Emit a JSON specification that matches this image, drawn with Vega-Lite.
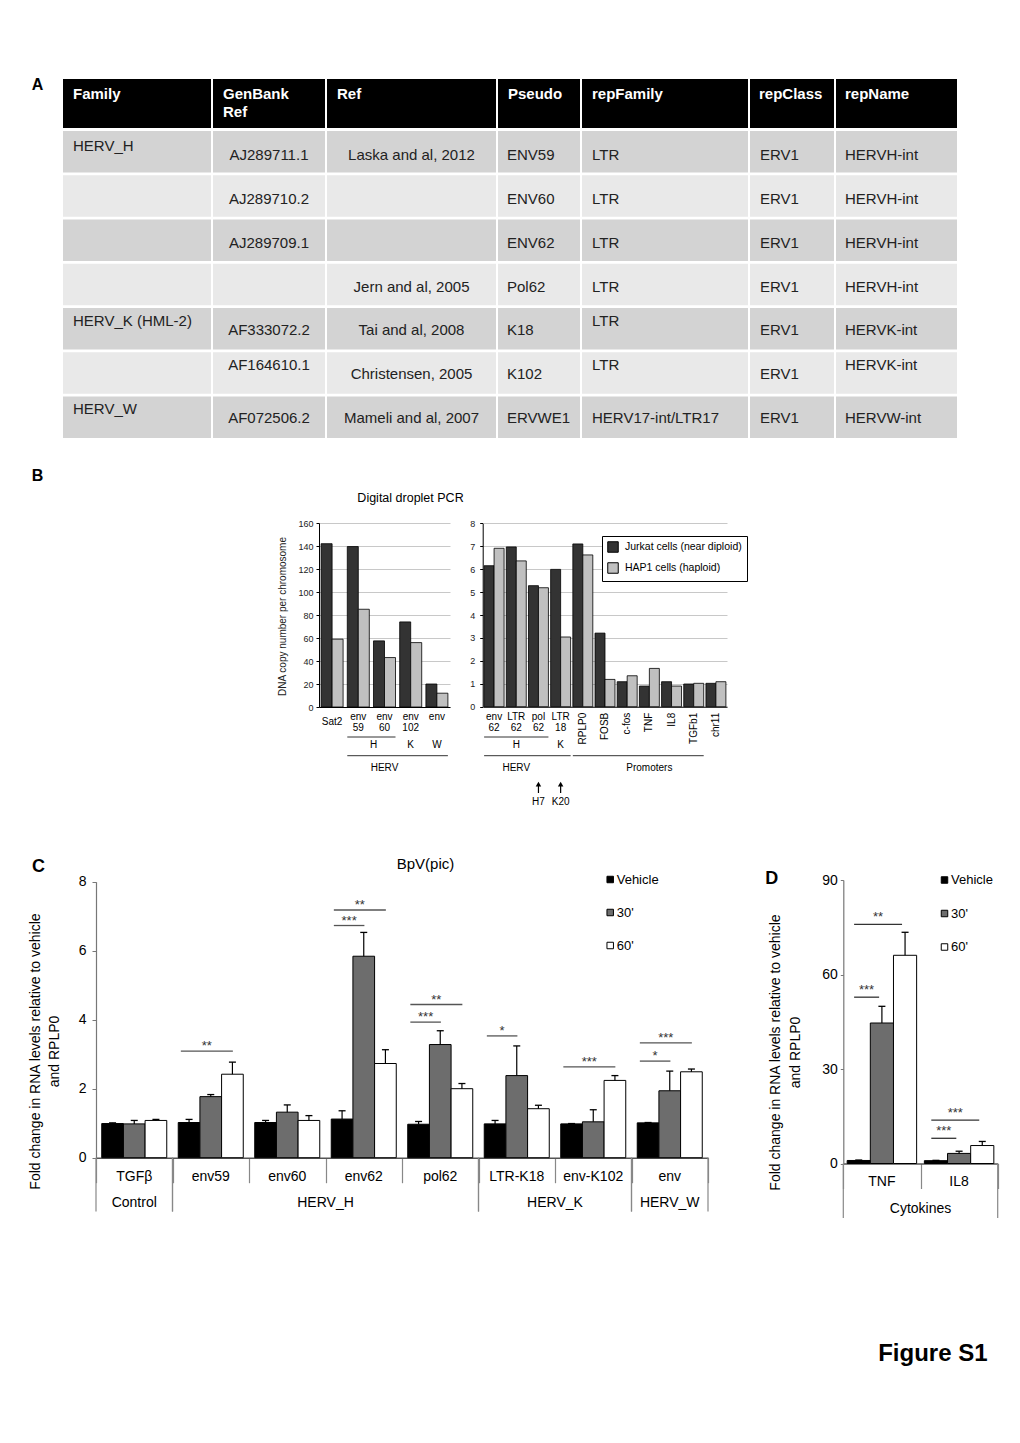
{
"$schema":"https://vega.github.io/schema/vega-lite/v6.json",
"width":1020,"height":1443,"autosize":"none","padding":0,"background":"#ffffff",
"config":{"view":{"stroke":null},"font":"Liberation Sans"},
"datasets":{
"tbl":[
{"r":0,"c":"Family","t":"Family","v":"h"},{"r":0,"c":"GenBank","t":"GenBank\nRef","v":"h"},{"r":0,"c":"Ref","t":"Ref","v":"h"},{"r":0,"c":"Pseudo","t":"Pseudo","v":"h"},{"r":0,"c":"repFamily","t":"repFamily","v":"h"},{"r":0,"c":"repClass","t":"repClass","v":"h"},{"r":0,"c":"repName","t":"repName","v":"h"},
{"r":1,"c":"Family","t":"HERV_H","v":"t"},{"r":1,"c":"GenBank","t":"AJ289711.1","v":"m"},{"r":1,"c":"Ref","t":"Laska and al, 2012","v":"m"},{"r":1,"c":"Pseudo","t":"ENV59","v":"m"},{"r":1,"c":"repFamily","t":"LTR","v":"m"},{"r":1,"c":"repClass","t":"ERV1","v":"m"},{"r":1,"c":"repName","t":"HERVH-int","v":"m"},
{"r":2,"c":"Family","t":"","v":"m"},{"r":2,"c":"GenBank","t":"AJ289710.2","v":"m"},{"r":2,"c":"Ref","t":"","v":"m"},{"r":2,"c":"Pseudo","t":"ENV60","v":"m"},{"r":2,"c":"repFamily","t":"LTR","v":"m"},{"r":2,"c":"repClass","t":"ERV1","v":"m"},{"r":2,"c":"repName","t":"HERVH-int","v":"m"},
{"r":3,"c":"Family","t":"","v":"m"},{"r":3,"c":"GenBank","t":"AJ289709.1","v":"m"},{"r":3,"c":"Ref","t":"","v":"m"},{"r":3,"c":"Pseudo","t":"ENV62","v":"m"},{"r":3,"c":"repFamily","t":"LTR","v":"m"},{"r":3,"c":"repClass","t":"ERV1","v":"m"},{"r":3,"c":"repName","t":"HERVH-int","v":"m"},
{"r":4,"c":"Family","t":"","v":"m"},{"r":4,"c":"GenBank","t":"","v":"m"},{"r":4,"c":"Ref","t":"Jern and al, 2005","v":"m"},{"r":4,"c":"Pseudo","t":"Pol62","v":"m"},{"r":4,"c":"repFamily","t":"LTR","v":"m"},{"r":4,"c":"repClass","t":"ERV1","v":"m"},{"r":4,"c":"repName","t":"HERVH-int","v":"m"},
{"r":5,"c":"Family","t":"HERV_K (HML-2)","v":"t"},{"r":5,"c":"GenBank","t":"AF333072.2","v":"m"},{"r":5,"c":"Ref","t":"Tai and al, 2008","v":"m"},{"r":5,"c":"Pseudo","t":"K18","v":"m"},{"r":5,"c":"repFamily","t":"LTR","v":"t"},{"r":5,"c":"repClass","t":"ERV1","v":"m"},{"r":5,"c":"repName","t":"HERVK-int","v":"m"},
{"r":6,"c":"Family","t":"","v":"m"},{"r":6,"c":"GenBank","t":"AF164610.1","v":"t"},{"r":6,"c":"Ref","t":"Christensen, 2005","v":"m"},{"r":6,"c":"Pseudo","t":"K102","v":"m"},{"r":6,"c":"repFamily","t":"LTR","v":"t"},{"r":6,"c":"repClass","t":"ERV1","v":"m"},{"r":6,"c":"repName","t":"HERVK-int","v":"t"},
{"r":7,"c":"Family","t":"HERV_W","v":"t"},{"r":7,"c":"GenBank","t":"AF072506.2","v":"m"},{"r":7,"c":"Ref","t":"Mameli and al, 2007","v":"m"},{"r":7,"c":"Pseudo","t":"ERVWE1","v":"m"},{"r":7,"c":"repFamily","t":"HERV17-int/LTR17","v":"m"},{"r":7,"c":"repClass","t":"ERV1","v":"m"},{"r":7,"c":"repName","t":"HERVW-int","v":"m"}
],
"dd":[
{"p":"L","cat":"Sat2","g":"Sat2","cell":"Jurkat cells (near diploid)","v":142},{"p":"L","cat":"Sat2","g":"Sat2","cell":"HAP1 cells (haploid)","v":59},
{"p":"L","cat":"env 59","g":"HERV","cell":"Jurkat cells (near diploid)","v":139.5},{"p":"L","cat":"env 59","g":"HERV","cell":"HAP1 cells (haploid)","v":85},
{"p":"L","cat":"env 60","g":"HERV","cell":"Jurkat cells (near diploid)","v":57.5},{"p":"L","cat":"env 60","g":"HERV","cell":"HAP1 cells (haploid)","v":43},
{"p":"L","cat":"env 102","g":"HERV","cell":"Jurkat cells (near diploid)","v":74},{"p":"L","cat":"env 102","g":"HERV","cell":"HAP1 cells (haploid)","v":56},
{"p":"L","cat":"env","g":"HERV","cell":"Jurkat cells (near diploid)","v":20},{"p":"L","cat":"env","g":"HERV","cell":"HAP1 cells (haploid)","v":12},
{"p":"R","cat":"env 62","g":"HERV","cell":"Jurkat cells (near diploid)","v":6.15},{"p":"R","cat":"env 62","g":"HERV","cell":"HAP1 cells (haploid)","v":6.91},
{"p":"R","cat":"LTR 62","g":"HERV","cell":"Jurkat cells (near diploid)","v":6.97},{"p":"R","cat":"LTR 62","g":"HERV","cell":"HAP1 cells (haploid)","v":6.36},
{"p":"R","cat":"pol 62","g":"HERV","cell":"Jurkat cells (near diploid)","v":5.28},{"p":"R","cat":"pol 62","g":"HERV","cell":"HAP1 cells (haploid)","v":5.19},
{"p":"R","cat":"LTR 18","g":"HERV","cell":"Jurkat cells (near diploid)","v":5.99},{"p":"R","cat":"LTR 18","g":"HERV","cell":"HAP1 cells (haploid)","v":3.04},
{"p":"R","cat":"RPLP0","g":"Promoters","cell":"Jurkat cells (near diploid)","v":7.1},{"p":"R","cat":"RPLP0","g":"Promoters","cell":"HAP1 cells (haploid)","v":6.62},
{"p":"R","cat":"FOSB","g":"Promoters","cell":"Jurkat cells (near diploid)","v":3.21},{"p":"R","cat":"FOSB","g":"Promoters","cell":"HAP1 cells (haploid)","v":1.19},
{"p":"R","cat":"c-fos","g":"Promoters","cell":"Jurkat cells (near diploid)","v":1.09},{"p":"R","cat":"c-fos","g":"Promoters","cell":"HAP1 cells (haploid)","v":1.35},
{"p":"R","cat":"TNF","g":"Promoters","cell":"Jurkat cells (near diploid)","v":0.9},{"p":"R","cat":"TNF","g":"Promoters","cell":"HAP1 cells (haploid)","v":1.67},
{"p":"R","cat":"IL8","g":"Promoters","cell":"Jurkat cells (near diploid)","v":1.09},{"p":"R","cat":"IL8","g":"Promoters","cell":"HAP1 cells (haploid)","v":0.9},
{"p":"R","cat":"TGFb1","g":"Promoters","cell":"Jurkat cells (near diploid)","v":0.99},{"p":"R","cat":"TGFb1","g":"Promoters","cell":"HAP1 cells (haploid)","v":1.02},
{"p":"R","cat":"chr11","g":"Promoters","cell":"Jurkat cells (near diploid)","v":1.02},{"p":"R","cat":"chr11","g":"Promoters","cell":"HAP1 cells (haploid)","v":1.09}
],
"bann":[
{"p":"L","first":"env 59","last":"env 60","lvl":1},{"p":"L","first":"env 59","last":"env","lvl":2},
{"p":"R","first":"env 62","last":"pol 62","lvl":1},{"p":"R","first":"env 62","last":"LTR 18","lvl":2},{"p":"R","first":"RPLP0","last":"TGFb1","lvl":2}
],
"blab":[
{"p":"L","at":"env 60","t":"H","lvl":1,"edge":true},{"p":"L","at":"env 102","t":"K","lvl":1},{"p":"L","at":"env","t":"W","lvl":1},{"p":"L","at":"env 60","t":"HERV","lvl":2},
{"p":"R","at":"LTR 62","t":"H","lvl":1},{"p":"R","at":"LTR 18","t":"K","lvl":1},{"p":"R","at":"LTR 62","t":"HERV","lvl":2},{"p":"R","at":"TNF","t":"Promoters","lvl":2}
],
"arr":[{"at":"pol 62","t":"H7"},{"at":"LTR 18","t":"K20"}],
"bpv":[
{"cat":"TGFβ","tr":"Vehicle","m":0.99,"hi":1.01},{"cat":"TGFβ","tr":"30'","m":0.98,"hi":1.08},{"cat":"TGFβ","tr":"60'","m":1.08,"hi":1.11},
{"cat":"env59","tr":"Vehicle","m":1.02,"hi":1.11},{"cat":"env59","tr":"30'","m":1.77,"hi":1.83},{"cat":"env59","tr":"60'","m":2.42,"hi":2.77},
{"cat":"env60","tr":"Vehicle","m":1.02,"hi":1.08},{"cat":"env60","tr":"30'","m":1.32,"hi":1.53},{"cat":"env60","tr":"60'","m":1.08,"hi":1.22},
{"cat":"env62","tr":"Vehicle","m":1.12,"hi":1.36},{"cat":"env62","tr":"30'","m":5.84,"hi":6.53},{"cat":"env62","tr":"60'","m":2.73,"hi":3.13},
{"cat":"pol62","tr":"Vehicle","m":0.97,"hi":1.05},{"cat":"pol62","tr":"30'","m":3.28,"hi":3.68},{"cat":"pol62","tr":"60'","m":2.0,"hi":2.15},
{"cat":"LTR-K18","tr":"Vehicle","m":0.98,"hi":1.08},{"cat":"LTR-K18","tr":"30'","m":2.38,"hi":3.24},{"cat":"LTR-K18","tr":"60'","m":1.42,"hi":1.52},
{"cat":"env-K102","tr":"Vehicle","m":0.98,"hi":0.99},{"cat":"env-K102","tr":"30'","m":1.04,"hi":1.39},{"cat":"env-K102","tr":"60'","m":2.24,"hi":2.38},
{"cat":"env","tr":"Vehicle","m":1.01,"hi":1.02},{"cat":"env","tr":"30'","m":1.94,"hi":2.51},{"cat":"env","tr":"60'","m":2.49,"hi":2.57}
],
"cgrp":[
{"g":"Control","first":"TGFβ","last":"TGFβ","n":1,"anchor":"TGFβ"},{"g":"HERV_H","first":"env59","last":"pol62","n":4,"anchor":"env62"},
{"g":"HERV_K","first":"LTR-K18","last":"env-K102","n":2,"anchor":"env-K102"},{"g":"HERV_W","first":"env","last":"env","n":1,"anchor":"env"}
],
"csig":[
{"cat":"env59","to":"60'","y":3.09,"s":"**"},{"cat":"env62","to":"60'","y":7.18,"s":"**"},{"cat":"env62","to":"30'","y":6.73,"s":"***"},
{"cat":"pol62","to":"60'","y":4.44,"s":"**"},{"cat":"pol62","to":"30'","y":3.93,"s":"***"},{"cat":"LTR-K18","to":"30'","y":3.53,"s":"*"},
{"cat":"env-K102","to":"60'","y":2.63,"s":"***"},{"cat":"env","to":"60'","y":3.33,"s":"***"},{"cat":"env","to":"30'","y":2.8,"s":"*"}
],
"cyt":[
{"cat":"TNF","tr":"Vehicle","m":0.96,"hi":1.1},{"cat":"TNF","tr":"30'","m":44.6,"hi":49.9},{"cat":"TNF","tr":"60'","m":66.1,"hi":73.4},
{"cat":"IL8","tr":"Vehicle","m":0.9,"hi":1.0},{"cat":"IL8","tr":"30'","m":3.2,"hi":3.9},{"cat":"IL8","tr":"60'","m":5.7,"hi":7.0}
],
"dgrp":[{"g":"Cytokines","first":"TNF","last":"IL8","n":2,"anchor":"IL8"}],
"dsig":[
{"cat":"TNF","to":"60'","y":75.9,"s":"**"},{"cat":"TNF","to":"30'","y":52.8,"s":"***"},{"cat":"IL8","to":"60'","y":13.8,"s":"***"},{"cat":"IL8","to":"30'","y":8.0,"s":"***"}
]
},
"resolve":{"scale":{"x":"independent","y":"independent","xOffset":"independent","color":"independent"},"axis":{"x":"independent","y":"independent"},"legend":{"color":"independent"}},
"layer":[
{"data":{"name":"tbl"},"transform":[{"filter":{"field":"c","equal":"Family"}}],"resolve":{"scale":{"y":"independent"},"axis":{"y":"independent"}},
 "layer":[
  {"transform":[{"filter":"datum.r == 0"}],"mark":{"type":"rect","color":"#000000"},"encoding":{"x":{"field":"c","type":"nominal","axis":null,"scale":{"range":[63,211],"paddingInner":0,"paddingOuter":0}},"y":{"field":"r","type":"ordinal","scale":{"domain":[0],"range":[79,128],"paddingInner":0,"paddingOuter":0},"axis":{"orient":"left","offset":-63,"labels":false,"ticks":false,"domain":false,"grid":false,"title":"A","titleAngle":0,"titleX":-26,"titleY":84,"titleAlign":"center","titleBaseline":"middle","titleFontSize":16,"titleFontWeight":"bold","titleColor":"#000000"}}}},
  {"transform":[{"filter":"datum.r == 0"}],"mark":{"type":"text","align":"left","baseline":"top","dx":10,"dy":-16.5,"color":"#ffffff","fontWeight":"bold","fontSize":15,"lineBreak":"\n","lineHeight":18},"encoding":{"x":{"field":"c","type":"nominal","bandPosition":0,"axis":null,"scale":{"range":[63,211],"paddingInner":0,"paddingOuter":0}},"y":{"field":"r","type":"ordinal","axis":null,"scale":{"domain":[0],"range":[79,128],"paddingInner":0,"paddingOuter":0}},"text":{"field":"t"}}},
  {"transform":[{"filter":"datum.r > 0"}],"mark":{"type":"rect"},"encoding":{"x":{"field":"c","type":"nominal","axis":null,"scale":{"range":[63,211],"paddingInner":0,"paddingOuter":0}},"y":{"field":"r","type":"ordinal","axis":null,"scale":{"domain":[1,2,3,4,5,6,7],"range":[131,438],"paddingInner":0.06,"paddingOuter":0}},"color":{"field":"r","type":"ordinal","legend":null,"scale":{"domain":[1,2,3,4,5,6,7],"range":["#d3d3d3","#e9e9e9","#d3d3d3","#e9e9e9","#d3d3d3","#e9e9e9","#d3d3d3"]}}}},
  {"transform":[{"filter":"datum.r > 0 && datum.v == 'm'"}],"mark":{"type":"text","align":"left","baseline":"middle","dx":10,"dy":2,"fontSize":15,"color":"#222222"},"encoding":{"x":{"field":"c","type":"nominal","bandPosition":0,"axis":null,"scale":{"range":[63,211],"paddingInner":0,"paddingOuter":0}},"y":{"field":"r","type":"ordinal","axis":null,"scale":{"domain":[1,2,3,4,5,6,7],"range":[131,438],"paddingInner":0.06,"paddingOuter":0}},"text":{"field":"t"}}},
  {"transform":[{"filter":"datum.r > 0 && datum.v == 't'"}],"mark":{"type":"text","align":"left","baseline":"middle","dx":10,"dy":-7,"fontSize":15,"color":"#222222"},"encoding":{"x":{"field":"c","type":"nominal","bandPosition":0,"axis":null,"scale":{"range":[63,211],"paddingInner":0,"paddingOuter":0}},"y":{"field":"r","type":"ordinal","axis":null,"scale":{"domain":[1,2,3,4,5,6,7],"range":[131,438],"paddingInner":0.06,"paddingOuter":0}},"text":{"field":"t"}}}
 ]},
{"data":{"name":"tbl"},"transform":[{"filter":{"field":"c","equal":"GenBank"}}],"resolve":{"scale":{"y":"independent"},"axis":{"y":"independent"}},
 "layer":[
  {"transform":[{"filter":"datum.r == 0"}],"mark":{"type":"rect","color":"#000000"},"encoding":{"x":{"field":"c","type":"nominal","axis":null,"scale":{"range":[213,325],"paddingInner":0,"paddingOuter":0}},"y":{"field":"r","type":"ordinal","axis":null,"scale":{"domain":[0],"range":[79,128],"paddingInner":0,"paddingOuter":0}}}},
  {"transform":[{"filter":"datum.r == 0"}],"mark":{"type":"text","align":"left","baseline":"top","dx":10,"dy":-16.5,"color":"#ffffff","fontWeight":"bold","fontSize":15,"lineBreak":"\n","lineHeight":18},"encoding":{"x":{"field":"c","type":"nominal","bandPosition":0,"axis":null,"scale":{"range":[213,325],"paddingInner":0,"paddingOuter":0}},"y":{"field":"r","type":"ordinal","axis":null,"scale":{"domain":[0],"range":[79,128],"paddingInner":0,"paddingOuter":0}},"text":{"field":"t"}}},
  {"transform":[{"filter":"datum.r > 0"}],"mark":{"type":"rect"},"encoding":{"x":{"field":"c","type":"nominal","axis":null,"scale":{"range":[213,325],"paddingInner":0,"paddingOuter":0}},"y":{"field":"r","type":"ordinal","axis":null,"scale":{"domain":[1,2,3,4,5,6,7],"range":[131,438],"paddingInner":0.06,"paddingOuter":0}},"color":{"field":"r","type":"ordinal","legend":null,"scale":{"domain":[1,2,3,4,5,6,7],"range":["#d3d3d3","#e9e9e9","#d3d3d3","#e9e9e9","#d3d3d3","#e9e9e9","#d3d3d3"]}}}},
  {"transform":[{"filter":"datum.r > 0 && datum.v == 'm'"}],"mark":{"type":"text","align":"center","baseline":"middle","dy":2,"fontSize":15,"color":"#222222"},"encoding":{"x":{"field":"c","type":"nominal","axis":null,"scale":{"range":[213,325],"paddingInner":0,"paddingOuter":0}},"y":{"field":"r","type":"ordinal","axis":null,"scale":{"domain":[1,2,3,4,5,6,7],"range":[131,438],"paddingInner":0.06,"paddingOuter":0}},"text":{"field":"t"}}},
  {"transform":[{"filter":"datum.r > 0 && datum.v == 't'"}],"mark":{"type":"text","align":"center","baseline":"middle","dy":-7,"fontSize":15,"color":"#222222"},"encoding":{"x":{"field":"c","type":"nominal","axis":null,"scale":{"range":[213,325],"paddingInner":0,"paddingOuter":0}},"y":{"field":"r","type":"ordinal","axis":null,"scale":{"domain":[1,2,3,4,5,6,7],"range":[131,438],"paddingInner":0.06,"paddingOuter":0}},"text":{"field":"t"}}}
 ]},
{"data":{"name":"tbl"},"transform":[{"filter":{"field":"c","equal":"Ref"}}],"resolve":{"scale":{"y":"independent"},"axis":{"y":"independent"}},
 "layer":[
  {"transform":[{"filter":"datum.r == 0"}],"mark":{"type":"rect","color":"#000000"},"encoding":{"x":{"field":"c","type":"nominal","axis":null,"scale":{"range":[327,496],"paddingInner":0,"paddingOuter":0}},"y":{"field":"r","type":"ordinal","axis":null,"scale":{"domain":[0],"range":[79,128],"paddingInner":0,"paddingOuter":0}}}},
  {"transform":[{"filter":"datum.r == 0"}],"mark":{"type":"text","align":"left","baseline":"top","dx":10,"dy":-16.5,"color":"#ffffff","fontWeight":"bold","fontSize":15,"lineBreak":"\n","lineHeight":18},"encoding":{"x":{"field":"c","type":"nominal","bandPosition":0,"axis":null,"scale":{"range":[327,496],"paddingInner":0,"paddingOuter":0}},"y":{"field":"r","type":"ordinal","axis":null,"scale":{"domain":[0],"range":[79,128],"paddingInner":0,"paddingOuter":0}},"text":{"field":"t"}}},
  {"transform":[{"filter":"datum.r > 0"}],"mark":{"type":"rect"},"encoding":{"x":{"field":"c","type":"nominal","axis":null,"scale":{"range":[327,496],"paddingInner":0,"paddingOuter":0}},"y":{"field":"r","type":"ordinal","axis":null,"scale":{"domain":[1,2,3,4,5,6,7],"range":[131,438],"paddingInner":0.06,"paddingOuter":0}},"color":{"field":"r","type":"ordinal","legend":null,"scale":{"domain":[1,2,3,4,5,6,7],"range":["#d3d3d3","#e9e9e9","#d3d3d3","#e9e9e9","#d3d3d3","#e9e9e9","#d3d3d3"]}}}},
  {"transform":[{"filter":"datum.r > 0 && datum.v == 'm'"}],"mark":{"type":"text","align":"center","baseline":"middle","dy":2,"fontSize":15,"color":"#222222"},"encoding":{"x":{"field":"c","type":"nominal","axis":null,"scale":{"range":[327,496],"paddingInner":0,"paddingOuter":0}},"y":{"field":"r","type":"ordinal","axis":null,"scale":{"domain":[1,2,3,4,5,6,7],"range":[131,438],"paddingInner":0.06,"paddingOuter":0}},"text":{"field":"t"}}}
 ]},
{"data":{"name":"tbl"},"transform":[{"filter":{"field":"c","equal":"Pseudo"}}],"resolve":{"scale":{"y":"independent"},"axis":{"y":"independent"}},
 "layer":[
  {"transform":[{"filter":"datum.r == 0"}],"mark":{"type":"rect","color":"#000000"},"encoding":{"x":{"field":"c","type":"nominal","axis":null,"scale":{"range":[498,580],"paddingInner":0,"paddingOuter":0}},"y":{"field":"r","type":"ordinal","axis":null,"scale":{"domain":[0],"range":[79,128],"paddingInner":0,"paddingOuter":0}}}},
  {"transform":[{"filter":"datum.r == 0"}],"mark":{"type":"text","align":"left","baseline":"top","dx":10,"dy":-16.5,"color":"#ffffff","fontWeight":"bold","fontSize":15,"lineBreak":"\n","lineHeight":18},"encoding":{"x":{"field":"c","type":"nominal","bandPosition":0,"axis":null,"scale":{"range":[498,580],"paddingInner":0,"paddingOuter":0}},"y":{"field":"r","type":"ordinal","axis":null,"scale":{"domain":[0],"range":[79,128],"paddingInner":0,"paddingOuter":0}},"text":{"field":"t"}}},
  {"transform":[{"filter":"datum.r > 0"}],"mark":{"type":"rect"},"encoding":{"x":{"field":"c","type":"nominal","axis":null,"scale":{"range":[498,580],"paddingInner":0,"paddingOuter":0}},"y":{"field":"r","type":"ordinal","axis":null,"scale":{"domain":[1,2,3,4,5,6,7],"range":[131,438],"paddingInner":0.06,"paddingOuter":0}},"color":{"field":"r","type":"ordinal","legend":null,"scale":{"domain":[1,2,3,4,5,6,7],"range":["#d3d3d3","#e9e9e9","#d3d3d3","#e9e9e9","#d3d3d3","#e9e9e9","#d3d3d3"]}}}},
  {"transform":[{"filter":"datum.r > 0 && datum.v == 'm'"}],"mark":{"type":"text","align":"left","baseline":"middle","dx":9,"dy":2,"fontSize":15,"color":"#222222"},"encoding":{"x":{"field":"c","type":"nominal","bandPosition":0,"axis":null,"scale":{"range":[498,580],"paddingInner":0,"paddingOuter":0}},"y":{"field":"r","type":"ordinal","axis":null,"scale":{"domain":[1,2,3,4,5,6,7],"range":[131,438],"paddingInner":0.06,"paddingOuter":0}},"text":{"field":"t"}}}
 ]},
{"data":{"name":"tbl"},"transform":[{"filter":{"field":"c","equal":"repFamily"}}],"resolve":{"scale":{"y":"independent"},"axis":{"y":"independent"}},
 "layer":[
  {"transform":[{"filter":"datum.r == 0"}],"mark":{"type":"rect","color":"#000000"},"encoding":{"x":{"field":"c","type":"nominal","axis":null,"scale":{"range":[582,748],"paddingInner":0,"paddingOuter":0}},"y":{"field":"r","type":"ordinal","axis":null,"scale":{"domain":[0],"range":[79,128],"paddingInner":0,"paddingOuter":0}}}},
  {"transform":[{"filter":"datum.r == 0"}],"mark":{"type":"text","align":"left","baseline":"top","dx":10,"dy":-16.5,"color":"#ffffff","fontWeight":"bold","fontSize":15,"lineBreak":"\n","lineHeight":18},"encoding":{"x":{"field":"c","type":"nominal","bandPosition":0,"axis":null,"scale":{"range":[582,748],"paddingInner":0,"paddingOuter":0}},"y":{"field":"r","type":"ordinal","axis":null,"scale":{"domain":[0],"range":[79,128],"paddingInner":0,"paddingOuter":0}},"text":{"field":"t"}}},
  {"transform":[{"filter":"datum.r > 0"}],"mark":{"type":"rect"},"encoding":{"x":{"field":"c","type":"nominal","axis":null,"scale":{"range":[582,748],"paddingInner":0,"paddingOuter":0}},"y":{"field":"r","type":"ordinal","axis":null,"scale":{"domain":[1,2,3,4,5,6,7],"range":[131,438],"paddingInner":0.06,"paddingOuter":0}},"color":{"field":"r","type":"ordinal","legend":null,"scale":{"domain":[1,2,3,4,5,6,7],"range":["#d3d3d3","#e9e9e9","#d3d3d3","#e9e9e9","#d3d3d3","#e9e9e9","#d3d3d3"]}}}},
  {"transform":[{"filter":"datum.r > 0 && datum.v == 'm'"}],"mark":{"type":"text","align":"left","baseline":"middle","dx":10,"dy":2,"fontSize":15,"color":"#222222"},"encoding":{"x":{"field":"c","type":"nominal","bandPosition":0,"axis":null,"scale":{"range":[582,748],"paddingInner":0,"paddingOuter":0}},"y":{"field":"r","type":"ordinal","axis":null,"scale":{"domain":[1,2,3,4,5,6,7],"range":[131,438],"paddingInner":0.06,"paddingOuter":0}},"text":{"field":"t"}}},
  {"transform":[{"filter":"datum.r > 0 && datum.v == 't'"}],"mark":{"type":"text","align":"left","baseline":"middle","dx":10,"dy":-7,"fontSize":15,"color":"#222222"},"encoding":{"x":{"field":"c","type":"nominal","bandPosition":0,"axis":null,"scale":{"range":[582,748],"paddingInner":0,"paddingOuter":0}},"y":{"field":"r","type":"ordinal","axis":null,"scale":{"domain":[1,2,3,4,5,6,7],"range":[131,438],"paddingInner":0.06,"paddingOuter":0}},"text":{"field":"t"}}}
 ]},
{"data":{"name":"tbl"},"transform":[{"filter":{"field":"c","equal":"repClass"}}],"resolve":{"scale":{"y":"independent"},"axis":{"y":"independent"}},
 "layer":[
  {"transform":[{"filter":"datum.r == 0"}],"mark":{"type":"rect","color":"#000000"},"encoding":{"x":{"field":"c","type":"nominal","axis":null,"scale":{"range":[750,834],"paddingInner":0,"paddingOuter":0}},"y":{"field":"r","type":"ordinal","axis":null,"scale":{"domain":[0],"range":[79,128],"paddingInner":0,"paddingOuter":0}}}},
  {"transform":[{"filter":"datum.r == 0"}],"mark":{"type":"text","align":"left","baseline":"top","dx":9,"dy":-16.5,"color":"#ffffff","fontWeight":"bold","fontSize":15,"lineBreak":"\n","lineHeight":18},"encoding":{"x":{"field":"c","type":"nominal","bandPosition":0,"axis":null,"scale":{"range":[750,834],"paddingInner":0,"paddingOuter":0}},"y":{"field":"r","type":"ordinal","axis":null,"scale":{"domain":[0],"range":[79,128],"paddingInner":0,"paddingOuter":0}},"text":{"field":"t"}}},
  {"transform":[{"filter":"datum.r > 0"}],"mark":{"type":"rect"},"encoding":{"x":{"field":"c","type":"nominal","axis":null,"scale":{"range":[750,834],"paddingInner":0,"paddingOuter":0}},"y":{"field":"r","type":"ordinal","axis":null,"scale":{"domain":[1,2,3,4,5,6,7],"range":[131,438],"paddingInner":0.06,"paddingOuter":0}},"color":{"field":"r","type":"ordinal","legend":null,"scale":{"domain":[1,2,3,4,5,6,7],"range":["#d3d3d3","#e9e9e9","#d3d3d3","#e9e9e9","#d3d3d3","#e9e9e9","#d3d3d3"]}}}},
  {"transform":[{"filter":"datum.r > 0 && datum.v == 'm'"}],"mark":{"type":"text","align":"left","baseline":"middle","dx":10,"dy":2,"fontSize":15,"color":"#222222"},"encoding":{"x":{"field":"c","type":"nominal","bandPosition":0,"axis":null,"scale":{"range":[750,834],"paddingInner":0,"paddingOuter":0}},"y":{"field":"r","type":"ordinal","axis":null,"scale":{"domain":[1,2,3,4,5,6,7],"range":[131,438],"paddingInner":0.06,"paddingOuter":0}},"text":{"field":"t"}}}
 ]},
{"data":{"name":"tbl"},"transform":[{"filter":{"field":"c","equal":"repName"}}],"resolve":{"scale":{"y":"independent"},"axis":{"y":"independent"}},
 "layer":[
  {"transform":[{"filter":"datum.r == 0"}],"mark":{"type":"rect","color":"#000000"},"encoding":{"x":{"field":"c","type":"nominal","axis":null,"scale":{"range":[836,957],"paddingInner":0,"paddingOuter":0}},"y":{"field":"r","type":"ordinal","axis":null,"scale":{"domain":[0],"range":[79,128],"paddingInner":0,"paddingOuter":0}}}},
  {"transform":[{"filter":"datum.r == 0"}],"mark":{"type":"text","align":"left","baseline":"top","dx":9,"dy":-16.5,"color":"#ffffff","fontWeight":"bold","fontSize":15,"lineBreak":"\n","lineHeight":18},"encoding":{"x":{"field":"c","type":"nominal","bandPosition":0,"axis":null,"scale":{"range":[836,957],"paddingInner":0,"paddingOuter":0}},"y":{"field":"r","type":"ordinal","axis":null,"scale":{"domain":[0],"range":[79,128],"paddingInner":0,"paddingOuter":0}},"text":{"field":"t"}}},
  {"transform":[{"filter":"datum.r > 0"}],"mark":{"type":"rect"},"encoding":{"x":{"field":"c","type":"nominal","axis":null,"scale":{"range":[836,957],"paddingInner":0,"paddingOuter":0}},"y":{"field":"r","type":"ordinal","axis":null,"scale":{"domain":[1,2,3,4,5,6,7],"range":[131,438],"paddingInner":0.06,"paddingOuter":0}},"color":{"field":"r","type":"ordinal","legend":null,"scale":{"domain":[1,2,3,4,5,6,7],"range":["#d3d3d3","#e9e9e9","#d3d3d3","#e9e9e9","#d3d3d3","#e9e9e9","#d3d3d3"]}}}},
  {"transform":[{"filter":"datum.r > 0 && datum.v == 'm'"}],"mark":{"type":"text","align":"left","baseline":"middle","dx":9,"dy":2,"fontSize":15,"color":"#222222"},"encoding":{"x":{"field":"c","type":"nominal","bandPosition":0,"axis":null,"scale":{"range":[836,957],"paddingInner":0,"paddingOuter":0}},"y":{"field":"r","type":"ordinal","axis":null,"scale":{"domain":[1,2,3,4,5,6,7],"range":[131,438],"paddingInner":0.06,"paddingOuter":0}},"text":{"field":"t"}}},
  {"transform":[{"filter":"datum.r > 0 && datum.v == 't'"}],"mark":{"type":"text","align":"left","baseline":"middle","dx":9,"dy":-7,"fontSize":15,"color":"#222222"},"encoding":{"x":{"field":"c","type":"nominal","bandPosition":0,"axis":null,"scale":{"range":[836,957],"paddingInner":0,"paddingOuter":0}},"y":{"field":"r","type":"ordinal","axis":null,"scale":{"domain":[1,2,3,4,5,6,7],"range":[131,438],"paddingInner":0.06,"paddingOuter":0}},"text":{"field":"t"}}}
 ]},

{"data":{"name":"dd"},"transform":[{"filter":{"field":"p","equal":"L"}}],"mark":{"type":"bar","stroke":"#000000","strokeWidth":0.8},
 "encoding":{
  "x":{"field":"cat","type":"nominal","scale":{"domain":["Sat2","env 59","env 60","env 102","env"],"range":[319,450],"paddingInner":0.16,"paddingOuter":0.08},"axis":{"orient":"bottom","offset":-736,"labels":false,"ticks":false,"domain":true,"domainColor":"#000000","grid":false,"title":null}},
  "xOffset":{"field":"cell","type":"nominal","scale":{"domain":["Jurkat cells (near diploid)","HAP1 cells (haploid)"]}},
  "y":{"field":"v","type":"quantitative","scale":{"domain":[0,160],"range":[707,523],"nice":false,"zero":false},"axis":{"orient":"left","offset":-319,"values":[0,20,40,60,80,100,120,140,160],"grid":true,"gridColor":"#c8c8c8","gridWidth":1,"domainColor":"#000000","tickColor":"#000000","tickSize":3,"labelFontSize":9,"labelColor":"#222222","labelPadding":3,"title":"DNA copy number per chromosome","titleFontSize":10,"titleFontWeight":"normal","titleColor":"#222222","titleAngle":-90,"titleX":-37,"titleY":616,"titleAlign":"center","titleBaseline":"middle"}},
  "color":{"field":"cell","type":"nominal","scale":{"domain":["Jurkat cells (near diploid)","HAP1 cells (haploid)"],"range":["#333333","#c0c0c0"]},"legend":null}}},
{"data":{"name":"dd"},"transform":[{"filter":{"field":"p","equal":"R"}}],"mark":{"type":"bar","stroke":"#000000","strokeWidth":0.8},
 "encoding":{
  "x":{"field":"cat","type":"nominal","scale":{"domain":["env 62","LTR 62","pol 62","LTR 18","RPLP0","FOSB","c-fos","TNF","IL8","TGFb1","chr11"],"range":[483,727],"paddingInner":0.1,"paddingOuter":0.05},"axis":{"orient":"bottom","offset":-736.3,"labels":false,"ticks":false,"domain":true,"domainColor":"#000000","grid":false,"title":null}},
  "xOffset":{"field":"cell","type":"nominal","scale":{"domain":["Jurkat cells (near diploid)","HAP1 cells (haploid)"]}},
  "y":{"field":"v","type":"quantitative","scale":{"domain":[0,8],"range":[706.7,523.3],"nice":false,"zero":false},"axis":{"orient":"left","offset":-482.7,"values":[0,1,2,3,4,5,6,7,8],"grid":true,"gridColor":"#c8c8c8","gridWidth":1,"domainColor":"#000000","tickColor":"#000000","tickSize":3,"labelFontSize":9,"labelColor":"#222222","labelPadding":5,"title":null}},
  "color":{"field":"cell","type":"nominal","scale":{"domain":["Jurkat cells (near diploid)","HAP1 cells (haploid)"],"range":["#333333","#c0c0c0"]},"legend":{"orient":"none","legendX":602,"legendY":536,"title":null,"strokeColor":"#000000","fillColor":"#ffffff","padding":5,"symbolType":"square","symbolSize":110,"symbolStrokeColor":"#000000","symbolStrokeWidth":1,"labelFontSize":10.5,"labelColor":"#000000","rowPadding":5,"labelOffset":6}}}},
{"data":{"name":"dd"},"transform":[{"filter":"datum.p == 'L' && datum.g != 'Sat2' && datum.cell == 'Jurkat cells (near diploid)'"}],"mark":{"type":"text","fontSize":10,"align":"center","baseline":"middle","lineBreak":" ","lineHeight":11.5,"color":"#000000"},
 "encoding":{
  "x":{"field":"cat","type":"nominal","scale":{"domain":["Sat2","env 59","env 60","env 102","env"],"range":[319,450],"paddingInner":0.16,"paddingOuter":0.08},"axis":null},
  "y":{"datum":-8.3,"type":"quantitative","scale":{"domain":[0,160],"range":[707,523],"nice":false,"zero":false},"axis":{"orient":"left","offset":-319,"labels":false,"ticks":false,"domain":false,"grid":false,"title":"B","titleAngle":0,"titleX":-282,"titleY":475,"titleAlign":"center","titleBaseline":"middle","titleFontSize":16,"titleFontWeight":"bold","titleColor":"#000000"}},
  "text":{"field":"cat"}}},
{"data":{"name":"dd"},"transform":[{"filter":"datum.g == 'Sat2' && datum.cell == 'Jurkat cells (near diploid)'"}],"mark":{"type":"text","fontSize":10,"align":"center","baseline":"middle","color":"#000000"},
 "encoding":{
  "x":{"field":"cat","type":"nominal","scale":{"domain":["Sat2","env 59","env 60","env 102","env"],"range":[319,450],"paddingInner":0.16,"paddingOuter":0.08},"axis":null},
  "y":{"datum":-13,"type":"quantitative","scale":{"domain":[0,160],"range":[707,523],"nice":false,"zero":false},"axis":null},
  "text":{"field":"cat"}}},
{"data":{"name":"dd"},"transform":[{"filter":"datum.p == 'R' && datum.g == 'HERV' && datum.cell == 'Jurkat cells (near diploid)'"}],"mark":{"type":"text","fontSize":10,"align":"center","baseline":"middle","lineBreak":" ","lineHeight":11.5,"color":"#000000"},
 "encoding":{
  "x":{"field":"cat","type":"nominal","scale":{"domain":["env 62","LTR 62","pol 62","LTR 18","RPLP0","FOSB","c-fos","TNF","IL8","TGFb1","chr11"],"range":[483,727],"paddingInner":0.1,"paddingOuter":0.05},"axis":{"orient":"top","labels":false,"ticks":false,"domain":false,"grid":false,"title":"Digital droplet PCR","titleX":410,"titleY":497,"titleAlign":"center","titleBaseline":"middle","titleFontSize":12.5,"titleFontWeight":"normal","titleColor":"#000000"}},
  "y":{"datum":-8.3,"type":"quantitative","scale":{"domain":[0,160],"range":[707,523],"nice":false,"zero":false},"axis":null},
  "text":{"field":"cat"}}},
{"data":{"name":"dd"},"transform":[{"filter":"datum.p == 'R' && datum.g == 'Promoters' && datum.cell == 'Jurkat cells (near diploid)'"}],"mark":{"type":"text","fontSize":10,"align":"right","baseline":"middle","angle":270,"color":"#000000"},
 "encoding":{
  "x":{"field":"cat","type":"nominal","scale":{"domain":["env 62","LTR 62","pol 62","LTR 18","RPLP0","FOSB","c-fos","TNF","IL8","TGFb1","chr11"],"range":[483,727],"paddingInner":0.1,"paddingOuter":0.05},"axis":null},
  "y":{"datum":-5,"type":"quantitative","scale":{"domain":[0,160],"range":[707,523],"nice":false,"zero":false},"axis":null},
  "text":{"field":"cat"}}},
{"data":{"name":"bann"},"transform":[{"filter":{"field":"p","equal":"L"}}],"mark":{"type":"rule","color":"#333333","strokeWidth":1},
 "encoding":{
  "x":{"field":"first","type":"nominal","bandPosition":0,"scale":{"domain":["Sat2","env 59","env 60","env 102","env"],"range":[319,450],"paddingInner":0.16,"paddingOuter":0.08},"axis":null},
  "x2":{"field":"last","bandPosition":1},
  "y":{"field":"lvl","type":"quantitative","scale":{"domain":[1,2],"range":[737,755.7],"nice":false,"zero":false},"axis":null}}},
{"data":{"name":"bann"},"transform":[{"filter":{"field":"p","equal":"R"}}],"mark":{"type":"rule","color":"#333333","strokeWidth":1},
 "encoding":{
  "x":{"field":"first","type":"nominal","bandPosition":0,"scale":{"domain":["env 62","LTR 62","pol 62","LTR 18","RPLP0","FOSB","c-fos","TNF","IL8","TGFb1","chr11"],"range":[483,727],"paddingInner":0.1,"paddingOuter":0.05},"axis":null},
  "x2":{"field":"last","bandPosition":1},
  "y":{"field":"lvl","type":"quantitative","scale":{"domain":[1,2],"range":[737,755.7],"nice":false,"zero":false},"axis":null}}},
{"data":{"name":"blab"},"transform":[{"filter":"datum.p == 'L' && !datum.edge"}],"mark":{"type":"text","fontSize":10,"align":"center","baseline":"middle","color":"#000000"},
 "encoding":{
  "x":{"field":"at","type":"nominal","scale":{"domain":["Sat2","env 59","env 60","env 102","env"],"range":[319,450],"paddingInner":0.16,"paddingOuter":0.08},"axis":null},
  "y":{"field":"lvl","type":"quantitative","scale":{"domain":[1,2],"range":[745,767.7],"nice":false,"zero":false},"axis":null},
  "text":{"field":"t"}}},
{"data":{"name":"blab"},"transform":[{"filter":"datum.p == 'L' && datum.edge"}],"mark":{"type":"text","fontSize":10,"align":"center","baseline":"middle","dx":-11,"color":"#000000"},
 "encoding":{
  "x":{"field":"at","type":"nominal","scale":{"domain":["Sat2","env 59","env 60","env 102","env"],"range":[319,450],"paddingInner":0.16,"paddingOuter":0.08},"axis":null},
  "y":{"field":"lvl","type":"quantitative","scale":{"domain":[1,2],"range":[745,767.7],"nice":false,"zero":false},"axis":null},
  "text":{"field":"t"}}},
{"data":{"name":"blab"},"transform":[{"filter":"datum.p == 'R'"}],"mark":{"type":"text","fontSize":10,"align":"center","baseline":"middle","color":"#000000"},
 "encoding":{
  "x":{"field":"at","type":"nominal","scale":{"domain":["env 62","LTR 62","pol 62","LTR 18","RPLP0","FOSB","c-fos","TNF","IL8","TGFb1","chr11"],"range":[483,727],"paddingInner":0.1,"paddingOuter":0.05},"axis":null},
  "y":{"field":"lvl","type":"quantitative","scale":{"domain":[1,2],"range":[745,767.7],"nice":false,"zero":false},"axis":null},
  "text":{"field":"t"}}},
{"data":{"name":"arr"},"mark":{"type":"rule","color":"#000000","strokeWidth":1.2},
 "encoding":{
  "x":{"field":"at","type":"nominal","scale":{"domain":["env 62","LTR 62","pol 62","LTR 18","RPLP0","FOSB","c-fos","TNF","IL8","TGFb1","chr11"],"range":[483,727],"paddingInner":0.1,"paddingOuter":0.05},"axis":null},
  "y":{"datum":-67,"type":"quantitative","scale":{"domain":[0,160],"range":[707,523],"nice":false,"zero":false},"axis":null},
  "y2":{"datum":-74.8}}},
{"data":{"name":"arr"},"mark":{"type":"point","shape":"triangle-up","filled":true,"color":"#000000","size":30,"opacity":1},
 "encoding":{
  "x":{"field":"at","type":"nominal","scale":{"domain":["env 62","LTR 62","pol 62","LTR 18","RPLP0","FOSB","c-fos","TNF","IL8","TGFb1","chr11"],"range":[483,727],"paddingInner":0.1,"paddingOuter":0.05},"axis":null},
  "y":{"datum":-67,"type":"quantitative","scale":{"domain":[0,160],"range":[707,523],"nice":false,"zero":false},"axis":null}}},
{"data":{"name":"arr"},"mark":{"type":"text","fontSize":10,"align":"center","baseline":"middle","color":"#000000"},
 "encoding":{
  "x":{"field":"at","type":"nominal","scale":{"domain":["env 62","LTR 62","pol 62","LTR 18","RPLP0","FOSB","c-fos","TNF","IL8","TGFb1","chr11"],"range":[483,727],"paddingInner":0.1,"paddingOuter":0.05},"axis":null},
  "y":{"datum":-82.3,"type":"quantitative","scale":{"domain":[0,160],"range":[707,523],"nice":false,"zero":false},"axis":null},
  "text":{"field":"t"}}},

{"data":{"name":"bpv"},"mark":{"type":"bar","stroke":"#000000","strokeWidth":1},
 "encoding":{
  "x":{"field":"cat","type":"nominal","scale":{"domain":["TGFβ","env59","env60","env62","pol62","LTR-K18","env-K102","env"],"range":[96,708],"paddingInner":0.15,"paddingOuter":0.075},"axis":{"orient":"top","labels":false,"ticks":false,"domain":false,"grid":false,"title":"BpV(pic)","titleX":425,"titleY":863,"titleAlign":"center","titleBaseline":"middle","titleFontSize":15,"titleFontWeight":"normal","titleColor":"#000000"}},
  "xOffset":{"field":"tr","type":"nominal","scale":{"domain":["Vehicle","30'","60'"]}},
  "y":{"field":"m","type":"quantitative","scale":{"domain":[0,8],"range":[1157.7,881.7],"nice":false,"zero":false},"axis":{"orient":"left","offset":-96,"values":[0,2,4,6,8],"grid":false,"domainColor":"#777777","domainWidth":1.2,"tickColor":"#777777","tickSize":4,"labelFontSize":14,"labelColor":"#000000","labelPadding":6,"title":["Fold change in RNA levels relative to vehicle","and RPLP0"],"titleFontSize":14,"titleFontWeight":"normal","titleColor":"#000000","titleAngle":-90,"titleX":-61,"titleY":1051,"titleAlign":"center","titleBaseline":"middle","titleLineHeight":19.5}},
  "color":{"field":"tr","type":"nominal","scale":{"domain":["Vehicle","30'","60'"],"range":["#000000","#6d6d6d","#ffffff"]},"legend":{"orient":"none","legendX":603.7,"legendY":873,"title":null,"padding":0,"symbolType":"square","symbolSize":42,"symbolStrokeColor":"#000000","symbolStrokeWidth":1,"labelFontSize":13,"labelColor":"#000000","rowPadding":19,"labelOffset":0}}}},
{"data":{"name":"bpv"},"mark":{"type":"rule","color":"#000000","strokeWidth":1.2},
 "encoding":{
  "x":{"field":"cat","type":"nominal","scale":{"domain":["TGFβ","env59","env60","env62","pol62","LTR-K18","env-K102","env"],"range":[96,708],"paddingInner":0.15,"paddingOuter":0.075},"axis":null},
  "xOffset":{"field":"tr","type":"nominal","scale":{"domain":["Vehicle","30'","60'"]}},
  "y":{"field":"m","type":"quantitative","scale":{"domain":[0,8],"range":[1157.7,881.7],"nice":false,"zero":false},"axis":null},
  "y2":{"field":"hi"}}},
{"data":{"name":"bpv"},"mark":{"type":"tick","color":"#000000","size":7,"thickness":1.3,"opacity":1},
 "encoding":{
  "x":{"field":"cat","type":"nominal","scale":{"domain":["TGFβ","env59","env60","env62","pol62","LTR-K18","env-K102","env"],"range":[96,708],"paddingInner":0.15,"paddingOuter":0.075},"axis":null},
  "xOffset":{"field":"tr","type":"nominal","scale":{"domain":["Vehicle","30'","60'"]}},
  "y":{"field":"hi","type":"quantitative","scale":{"domain":[0,8],"range":[1157.7,881.7],"nice":false,"zero":false},"axis":null}}},
{"data":{"name":"csig"},"transform":[{"filter":{"field":"to","equal":"30'"}}],"mark":{"type":"rule","color":"#555555","strokeWidth":1.3},
 "encoding":{
  "x":{"field":"cat","type":"nominal","bandPosition":0.04,"scale":{"domain":["TGFβ","env59","env60","env62","pol62","LTR-K18","env-K102","env"],"range":[96,708],"paddingInner":0.15,"paddingOuter":0.075},"axis":null},
  "x2":{"field":"cat","bandPosition":0.51},
  "y":{"field":"y","type":"quantitative","scale":{"domain":[0,8],"range":[1157.7,881.7],"nice":false,"zero":false},"axis":null}}},
{"data":{"name":"csig"},"transform":[{"filter":{"field":"to","equal":"60'"}}],"mark":{"type":"rule","color":"#555555","strokeWidth":1.3},
 "encoding":{
  "x":{"field":"cat","type":"nominal","bandPosition":0.04,"scale":{"domain":["TGFβ","env59","env60","env62","pol62","LTR-K18","env-K102","env"],"range":[96,708],"paddingInner":0.15,"paddingOuter":0.075},"axis":null},
  "x2":{"field":"cat","bandPosition":0.84},
  "y":{"field":"y","type":"quantitative","scale":{"domain":[0,8],"range":[1157.7,881.7],"nice":false,"zero":false},"axis":null}}},
{"data":{"name":"csig"},"transform":[{"filter":{"field":"to","equal":"30'"}}],"mark":{"type":"text","fontSize":13,"align":"center","baseline":"alphabetic","dx":-14.6,"dy":-1,"color":"#333333"},
 "encoding":{
  "x":{"field":"cat","type":"nominal","scale":{"domain":["TGFβ","env59","env60","env62","pol62","LTR-K18","env-K102","env"],"range":[96,708],"paddingInner":0.15,"paddingOuter":0.075},"axis":null},
  "y":{"field":"y","type":"quantitative","scale":{"domain":[0,8],"range":[1157.7,881.7],"nice":false,"zero":false},"axis":null},
  "text":{"field":"s"}}},
{"data":{"name":"csig"},"transform":[{"filter":{"field":"to","equal":"60'"}}],"mark":{"type":"text","fontSize":13,"align":"center","baseline":"alphabetic","dx":-3.9,"dy":-1,"color":"#333333"},
 "encoding":{
  "x":{"field":"cat","type":"nominal","scale":{"domain":["TGFβ","env59","env60","env62","pol62","LTR-K18","env-K102","env"],"range":[96,708],"paddingInner":0.15,"paddingOuter":0.075},"axis":null},
  "y":{"field":"y","type":"quantitative","scale":{"domain":[0,8],"range":[1157.7,881.7],"nice":false,"zero":false},"axis":null},
  "text":{"field":"s"}}},
{"data":{"name":"cgrp"},"mark":{"type":"rule","color":"#888888","strokeWidth":1.2},
 "encoding":{
  "x":{"field":"first","type":"nominal","bandPosition":0,"scale":{"domain":["TGFβ","env59","env60","env62","pol62","LTR-K18","env-K102","env"],"range":[96,708],"paddingInner":0,"paddingOuter":0},"axis":{"orient":"bottom","offset":-285.3,"labels":false,"ticks":true,"tickBand":"extent","tickSize":25,"tickColor":"#888888","tickWidth":1.2,"domain":true,"domainColor":"#555555","domainWidth":1.5,"grid":false,"title":null}},
  "y":{"datum":0,"type":"quantitative","scale":{"domain":[0,8],"range":[1157.7,881.7],"nice":false,"zero":false},"axis":{"orient":"left","offset":-96,"labels":false,"ticks":false,"domain":false,"grid":false,"title":"C","titleAngle":0,"titleX":-58,"titleY":866,"titleAlign":"center","titleBaseline":"middle","titleFontSize":18,"titleFontWeight":"bold","titleColor":"#000000"}},
  "y2":{"datum":-1.56}}},
{"data":{"name":"cgrp"},"mark":{"type":"rule","color":"#888888","strokeWidth":1.2},
 "encoding":{
  "x":{"field":"last","type":"nominal","bandPosition":1,"scale":{"domain":["TGFβ","env59","env60","env62","pol62","LTR-K18","env-K102","env"],"range":[96,708],"paddingInner":0,"paddingOuter":0},"axis":null},
  "y":{"datum":0,"type":"quantitative","scale":{"domain":[0,8],"range":[1157.7,881.7],"nice":false,"zero":false},"axis":null},
  "y2":{"datum":-1.56}}},
{"data":{"name":"bpv"},"transform":[{"filter":{"field":"tr","equal":"Vehicle"}}],"mark":{"type":"text","fontSize":14,"align":"center","baseline":"middle","color":"#000000"},
 "encoding":{
  "x":{"field":"cat","type":"nominal","scale":{"domain":["TGFβ","env59","env60","env62","pol62","LTR-K18","env-K102","env"],"range":[96,708],"paddingInner":0,"paddingOuter":0},"axis":null},
  "y":{"datum":-0.551,"type":"quantitative","scale":{"domain":[0,8],"range":[1157.7,881.7],"nice":false,"zero":false},"axis":null},
  "text":{"field":"cat"}}},
{"data":{"name":"cgrp"},"transform":[{"filter":"datum.n % 2 == 1"}],"mark":{"type":"text","fontSize":14,"align":"center","baseline":"middle","color":"#000000"},
 "encoding":{
  "x":{"field":"anchor","type":"nominal","scale":{"domain":["TGFβ","env59","env60","env62","pol62","LTR-K18","env-K102","env"],"range":[96,708],"paddingInner":0,"paddingOuter":0},"axis":null},
  "y":{"datum":-1.304,"type":"quantitative","scale":{"domain":[0,8],"range":[1157.7,881.7],"nice":false,"zero":false},"axis":null},
  "text":{"field":"g"}}},
{"data":{"name":"cgrp"},"transform":[{"filter":"datum.n % 2 == 0"}],"mark":{"type":"text","fontSize":14,"align":"center","baseline":"middle","dx":-38.25,"color":"#000000"},
 "encoding":{
  "x":{"field":"anchor","type":"nominal","scale":{"domain":["TGFβ","env59","env60","env62","pol62","LTR-K18","env-K102","env"],"range":[96,708],"paddingInner":0,"paddingOuter":0},"axis":null},
  "y":{"datum":-1.304,"type":"quantitative","scale":{"domain":[0,8],"range":[1157.7,881.7],"nice":false,"zero":false},"axis":null},
  "text":{"field":"g"}}},

{"data":{"name":"cyt"},"mark":{"type":"bar","stroke":"#000000","strokeWidth":1},
 "encoding":{
  "x":{"field":"cat","type":"nominal","scale":{"domain":["TNF","IL8"],"range":[843.3,997.7],"paddingInner":0.1,"paddingOuter":0.05},"axis":{"orient":"top","labels":false,"ticks":false,"domain":false,"grid":false,"title":"Figure S1","titleX":987,"titleY":1353,"titleAlign":"right","titleBaseline":"middle","titleFontSize":24,"titleFontWeight":"bold","titleColor":"#000000"}},
  "xOffset":{"field":"tr","type":"nominal","scale":{"domain":["Vehicle","30'","60'"]}},
  "y":{"field":"m","type":"quantitative","scale":{"domain":[0,90],"range":[1163.5,880],"nice":false,"zero":false},"axis":{"orient":"left","offset":-843.3,"values":[0,30,60,90],"grid":false,"domainColor":"#777777","domainWidth":1.2,"tickColor":"#777777","tickSize":3,"labelFontSize":14,"labelColor":"#000000","labelPadding":3,"title":["Fold change in RNA levels relative to vehicle","and RPLP0"],"titleFontSize":14,"titleFontWeight":"normal","titleColor":"#000000","titleAngle":-90,"titleX":-68.3,"titleY":1052,"titleAlign":"center","titleBaseline":"middle","titleLineHeight":20}},
  "color":{"field":"tr","type":"nominal","scale":{"domain":["Vehicle","30'","60'"],"range":["#000000","#6d6d6d","#ffffff"]},"legend":{"orient":"none","legendX":938,"legendY":873.5,"title":null,"padding":0,"symbolType":"square","symbolSize":42,"symbolStrokeColor":"#000000","symbolStrokeWidth":1,"labelFontSize":13,"labelColor":"#000000","rowPadding":19.5,"labelOffset":0}}}},
{"data":{"name":"cyt"},"mark":{"type":"rule","color":"#000000","strokeWidth":1.2},
 "encoding":{
  "x":{"field":"cat","type":"nominal","scale":{"domain":["TNF","IL8"],"range":[843.3,997.7],"paddingInner":0.1,"paddingOuter":0.05},"axis":null},
  "xOffset":{"field":"tr","type":"nominal","scale":{"domain":["Vehicle","30'","60'"]}},
  "y":{"field":"m","type":"quantitative","scale":{"domain":[0,90],"range":[1163.5,880],"nice":false,"zero":false},"axis":null},
  "y2":{"field":"hi"}}},
{"data":{"name":"cyt"},"mark":{"type":"tick","color":"#000000","size":7,"thickness":1.3,"opacity":1},
 "encoding":{
  "x":{"field":"cat","type":"nominal","scale":{"domain":["TNF","IL8"],"range":[843.3,997.7],"paddingInner":0.1,"paddingOuter":0.05},"axis":null},
  "xOffset":{"field":"tr","type":"nominal","scale":{"domain":["Vehicle","30'","60'"]}},
  "y":{"field":"hi","type":"quantitative","scale":{"domain":[0,90],"range":[1163.5,880],"nice":false,"zero":false},"axis":null}}},
{"data":{"name":"dsig"},"transform":[{"filter":{"field":"to","equal":"30'"}}],"mark":{"type":"rule","color":"#333333","strokeWidth":1.3},
 "encoding":{
  "x":{"field":"cat","type":"nominal","bandPosition":0.1,"scale":{"domain":["TNF","IL8"],"range":[843.3,997.7],"paddingInner":0.1,"paddingOuter":0.05},"axis":null},
  "x2":{"field":"cat","bandPosition":0.46},
  "y":{"field":"y","type":"quantitative","scale":{"domain":[0,90],"range":[1163.5,880],"nice":false,"zero":false},"axis":null}}},
{"data":{"name":"dsig"},"transform":[{"filter":{"field":"to","equal":"60'"}}],"mark":{"type":"rule","color":"#333333","strokeWidth":1.3},
 "encoding":{
  "x":{"field":"cat","type":"nominal","bandPosition":0.1,"scale":{"domain":["TNF","IL8"],"range":[843.3,997.7],"paddingInner":0.1,"paddingOuter":0.05},"axis":null},
  "x2":{"field":"cat","bandPosition":0.79},
  "y":{"field":"y","type":"quantitative","scale":{"domain":[0,90],"range":[1163.5,880],"nice":false,"zero":false},"axis":null}}},
{"data":{"name":"dsig"},"transform":[{"filter":{"field":"to","equal":"30'"}}],"mark":{"type":"text","fontSize":13,"align":"center","baseline":"alphabetic","dx":-15.3,"dy":-3,"color":"#333333"},
 "encoding":{
  "x":{"field":"cat","type":"nominal","scale":{"domain":["TNF","IL8"],"range":[843.3,997.7],"paddingInner":0.1,"paddingOuter":0.05},"axis":null},
  "y":{"field":"y","type":"quantitative","scale":{"domain":[0,90],"range":[1163.5,880],"nice":false,"zero":false},"axis":null},
  "text":{"field":"s"}}},
{"data":{"name":"dsig"},"transform":[{"filter":{"field":"to","equal":"60'"}}],"mark":{"type":"text","fontSize":13,"align":"center","baseline":"alphabetic","dx":-3.8,"dy":-3,"color":"#333333"},
 "encoding":{
  "x":{"field":"cat","type":"nominal","scale":{"domain":["TNF","IL8"],"range":[843.3,997.7],"paddingInner":0.1,"paddingOuter":0.05},"axis":null},
  "y":{"field":"y","type":"quantitative","scale":{"domain":[0,90],"range":[1163.5,880],"nice":false,"zero":false},"axis":null},
  "text":{"field":"s"}}},
{"data":{"name":"dgrp"},"mark":{"type":"rule","color":"#888888","strokeWidth":1.2},
 "encoding":{
  "x":{"field":"first","type":"nominal","bandPosition":0,"scale":{"domain":["TNF","IL8"],"range":[843.3,997.7],"paddingInner":0,"paddingOuter":0},"axis":{"orient":"bottom","offset":-279.5,"labels":false,"ticks":true,"tickBand":"extent","tickSize":25,"tickColor":"#888888","tickWidth":1.2,"domain":true,"domainColor":"#555555","domainWidth":1.5,"grid":false,"title":null}},
  "y":{"datum":0,"type":"quantitative","scale":{"domain":[0,90],"range":[1163.5,880],"nice":false,"zero":false},"axis":{"orient":"left","offset":-843.3,"labels":false,"ticks":false,"domain":false,"grid":false,"title":"D","titleAngle":0,"titleX":-72,"titleY":878,"titleAlign":"center","titleBaseline":"middle","titleFontSize":18,"titleFontWeight":"bold","titleColor":"#000000"}},
  "y2":{"datum":-17.3}}},
{"data":{"name":"dgrp"},"mark":{"type":"rule","color":"#888888","strokeWidth":1.2},
 "encoding":{
  "x":{"field":"last","type":"nominal","bandPosition":1,"scale":{"domain":["TNF","IL8"],"range":[843.3,997.7],"paddingInner":0,"paddingOuter":0},"axis":null},
  "y":{"datum":0,"type":"quantitative","scale":{"domain":[0,90],"range":[1163.5,880],"nice":false,"zero":false},"axis":null},
  "y2":{"datum":-17.3}}},
{"data":{"name":"cyt"},"transform":[{"filter":{"field":"tr","equal":"Vehicle"}}],"mark":{"type":"text","fontSize":14,"align":"center","baseline":"middle","color":"#000000"},
 "encoding":{
  "x":{"field":"cat","type":"nominal","scale":{"domain":["TNF","IL8"],"range":[843.3,997.7],"paddingInner":0,"paddingOuter":0},"axis":null},
  "y":{"datum":-5.78,"type":"quantitative","scale":{"domain":[0,90],"range":[1163.5,880],"nice":false,"zero":false},"axis":null},
  "text":{"field":"cat"}}},
{"data":{"name":"dgrp"},"mark":{"type":"text","fontSize":14,"align":"center","baseline":"middle","dx":-38.6,"color":"#000000"},
 "encoding":{
  "x":{"field":"anchor","type":"nominal","scale":{"domain":["TNF","IL8"],"range":[843.3,997.7],"paddingInner":0,"paddingOuter":0},"axis":null},
  "y":{"datum":-14.54,"type":"quantitative","scale":{"domain":[0,90],"range":[1163.5,880],"nice":false,"zero":false},"axis":null},
  "text":{"field":"g"}}}
]
}
